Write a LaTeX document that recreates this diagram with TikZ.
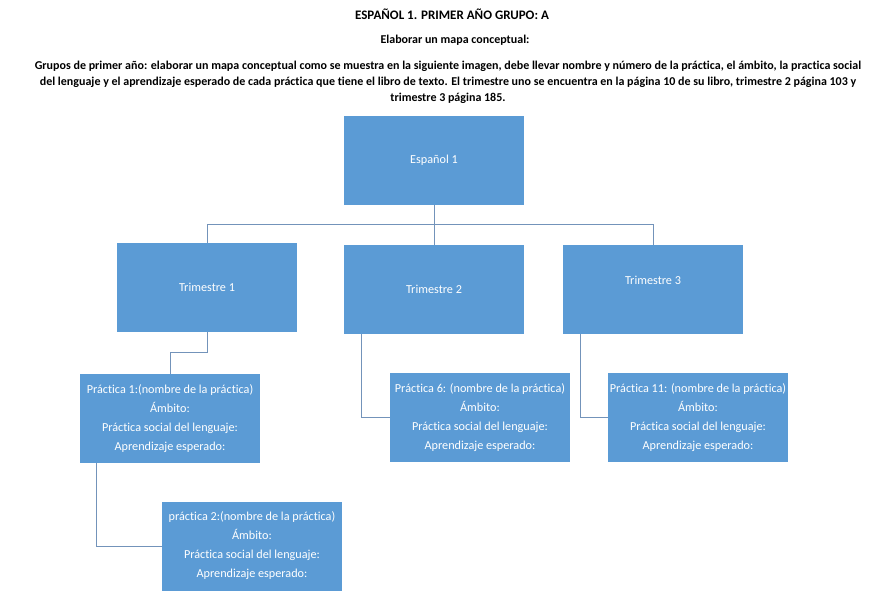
\documentclass[tikz,border=0pt]{standalone}
\usepackage{fontspec}
\setmainfont{Carlito}[Ligatures=NoCommon]
\definecolor{boxblue}{HTML}{5B9BD5}
\definecolor{linkblue}{HTML}{7393BA}
\tikzset{
  box/.style={fill=boxblue, text=white, minimum width=180pt, minimum height=89pt,
    inner sep=0.5pt, align=center, font=\fontsize{12.2}{19}\selectfont},
  link/.style={draw=linkblue, line width=0.9pt},
  head/.style={font=\bfseries\fontsize{12}{16}\selectfont, align=center}
}
\begin{document}
\begin{tikzpicture}[x=1pt,y=-1pt]
    \useasboundingbox (0,0) rectangle (895,607);
    \node[head, font=\bfseries\fontsize{13}{16}\selectfont] (titulo) at (452,14) {ESPAÑOL 1. PRIMER AÑO GRUPO: A};
    \node[head] (tarea) at (455,40) {Elaborar un mapa conceptual:};
    \node[head] (texto) at (448,82) {Grupos de primer año: elaborar un mapa conceptual como se muestra en la siguiente imagen, debe llevar nombre y número de la práctica, el ámbito, la practica social\\
    del lenguaje y el aprendizaje esperado de cada práctica que tiene el libro de texto. El trimestre uno se encuentra en la página 10 de su libro, trimestre 2 página 103 y\\
    trimestre 3 página 185.};
    \node[box] (es) at (434,160.5) {Español 1};
    \node[box] (t1) at (207,287.5) {Trimestre 1};
    \node[box] (t2) at (434,289.5) {Trimestre 2};
    \node[box, text depth=18pt] (t3) at (653,289.5) {Trimestre 3};
    \node[box] (p1) at (170,418.5) {Práctica 1:(nombre de la práctica)\\ Ámbito:\\ Práctica social del lenguaje:\\ Aprendizaje esperado:};
    \node[box] (p6) at (480,417.5) {Práctica 6: (nombre de la práctica)\\ Ámbito:\\ Práctica social del lenguaje:\\ Aprendizaje esperado:};
    \node[box] (p11) at (698,417.5) {Práctica 11: (nombre de la práctica)\\ Ámbito:\\ Práctica social del lenguaje:\\ Aprendizaje esperado:};
    \node[box] (p2) at (252,546) {práctica 2:(nombre de la práctica)\\ Ámbito:\\ Práctica social del lenguaje:\\ Aprendizaje esperado:};
    % conectores
    \draw[link] (es.south) |- ([yshift=18pt]t1.north) -- (t1.north);
    \draw[link] (es.south) -- (t2.north);
    \draw[link] (es.south) |- ([yshift=20pt]t3.north) -- (t3.north);
    \draw[link] (t1.south) |- ([yshift=21pt]p1.north) -- (p1.north);
    \draw[link] ([xshift=17pt]p1.south west) |- (p2.west);
    \draw[link] ([xshift=18pt]t2.south west) |- (p6.west);
    \draw[link] ([xshift=18pt]t3.south west) |- (p11.west);
\end{tikzpicture}
\end{document}
